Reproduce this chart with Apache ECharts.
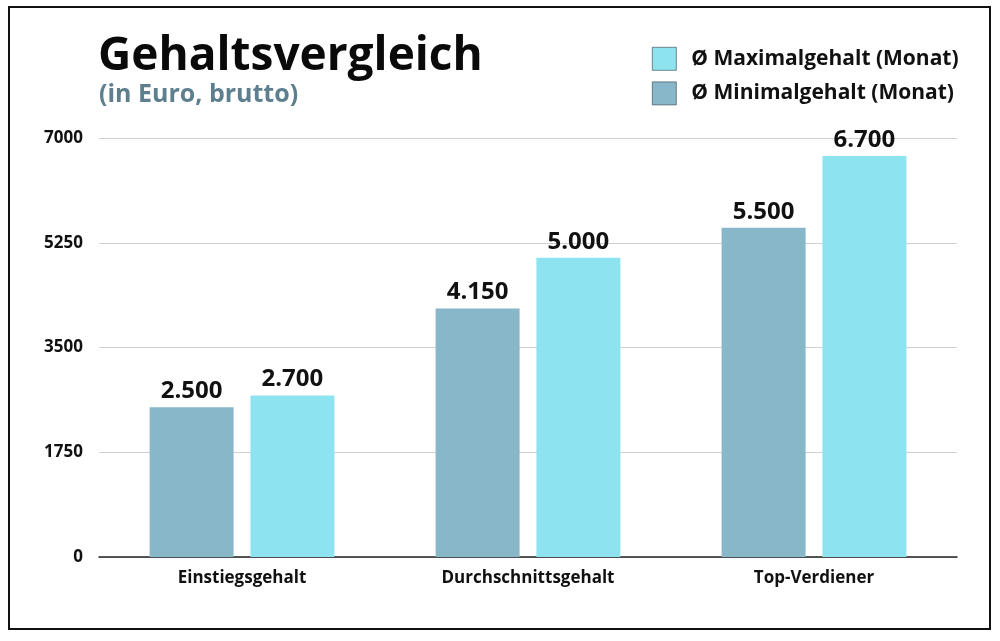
<!DOCTYPE html>
<html><head><meta charset="utf-8">
<script src="https://cdn.jsdelivr.net/npm/echarts@6/dist/echarts.min.js"></script>
<style>html,body{margin:0;padding:0;background:#fff}#c{width:1000px;height:641px}</style>
</head><body><div id="c"></div>
<script>
const categories = ['Einstiegsgehalt', 'Durchschnittsgehalt', 'Top-Verdiener'];
const minSalary = [2500, 4150, 5500];
const maxSalary = [2700, 5000, 6700];
const yTicks = [0, 1750, 3500, 5250, 7000];
const seriesNames = ['Ø Minimalgehalt (Monat)', 'Ø Maximalgehalt (Monat)'];

const FONT = '"Open Sans"';
const fmt = v => String(v).replace(/\B(?=(\d{3})+(?!\d))/g, '.');
const chart = echarts.init(document.getElementById('c'), null, {renderer: 'canvas'});
const labelCfg = {show: true, position: 'top', distance: 4, formatter: p => fmt(p.value),
  fontFamily: FONT, fontWeight: 'bold', fontSize: 24, color: '#111'};
chart.setOption({
  animation: false,
  backgroundColor: '#fff',
  title: [
    {text: 'Gehaltsvergleich', left: 98, top: 29, padding: 0, textStyle: {fontFamily: FONT, fontWeight: 'bold', fontSize: 46, color: '#0a0a0a', lineHeight: 56}},
    {text: '(in Euro, brutto)', left: 99, top: 79, padding: 0, textStyle: {fontFamily: FONT, fontWeight: 'bold', fontSize: 25, color: '#5d7f8e', lineHeight: 32}}
  ],
  legend: {
    data: [seriesNames[1], seriesNames[0]],
    orient: 'vertical', left: 652, top: 47, padding: 0, itemWidth: 24, itemHeight: 23, itemGap: 11,
    icon: 'rect',
    itemStyle: {borderColor: '#2a3a40', borderWidth: 0.6},
    textStyle: {fontFamily: FONT, fontWeight: 'bold', fontSize: 21, color: '#111', padding: [2, 0, 0, 10]}
  },
  grid: {left: 99, right: 43, top: 138, bottom: 84, containLabel: false},
  xAxis: {
    type: 'category', data: categories,
    axisLine: {lineStyle: {color: '#222', width: 1.5}},
    axisTick: {show: false},
    axisLabel: {fontFamily: FONT, fontWeight: 'bold', fontSize: 17, color: '#111', margin: 13}
  },
  yAxis: {
    type: 'value', min: yTicks[0], max: yTicks[yTicks.length - 1], interval: yTicks[1] - yTicks[0],
    axisLine: {show: false}, axisTick: {show: false},
    splitLine: {lineStyle: {color: '#d0d0d0', width: 1}},
    axisLabel: {fontFamily: FONT, fontWeight: 'bold', fontSize: 17, color: '#111', margin: 16, formatter: v => String(v)}
  },
  series: [
    {name: seriesNames[0], type: 'bar', data: minSalary, barWidth: 84, barGap: '20%',
     itemStyle: {color: '#88b7ca'}, label: labelCfg},
    {name: seriesNames[1], type: 'bar', data: maxSalary, barWidth: 84, barGap: '20%',
     itemStyle: {color: '#8de4f0'}, label: labelCfg}
  ],
  graphic: [{type: 'rect', shape: {x: 9, y: 7, width: 981, height: 622}, style: {fill: null, stroke: '#111', lineWidth: 2}, silent: true}]
});
</script></body></html>
